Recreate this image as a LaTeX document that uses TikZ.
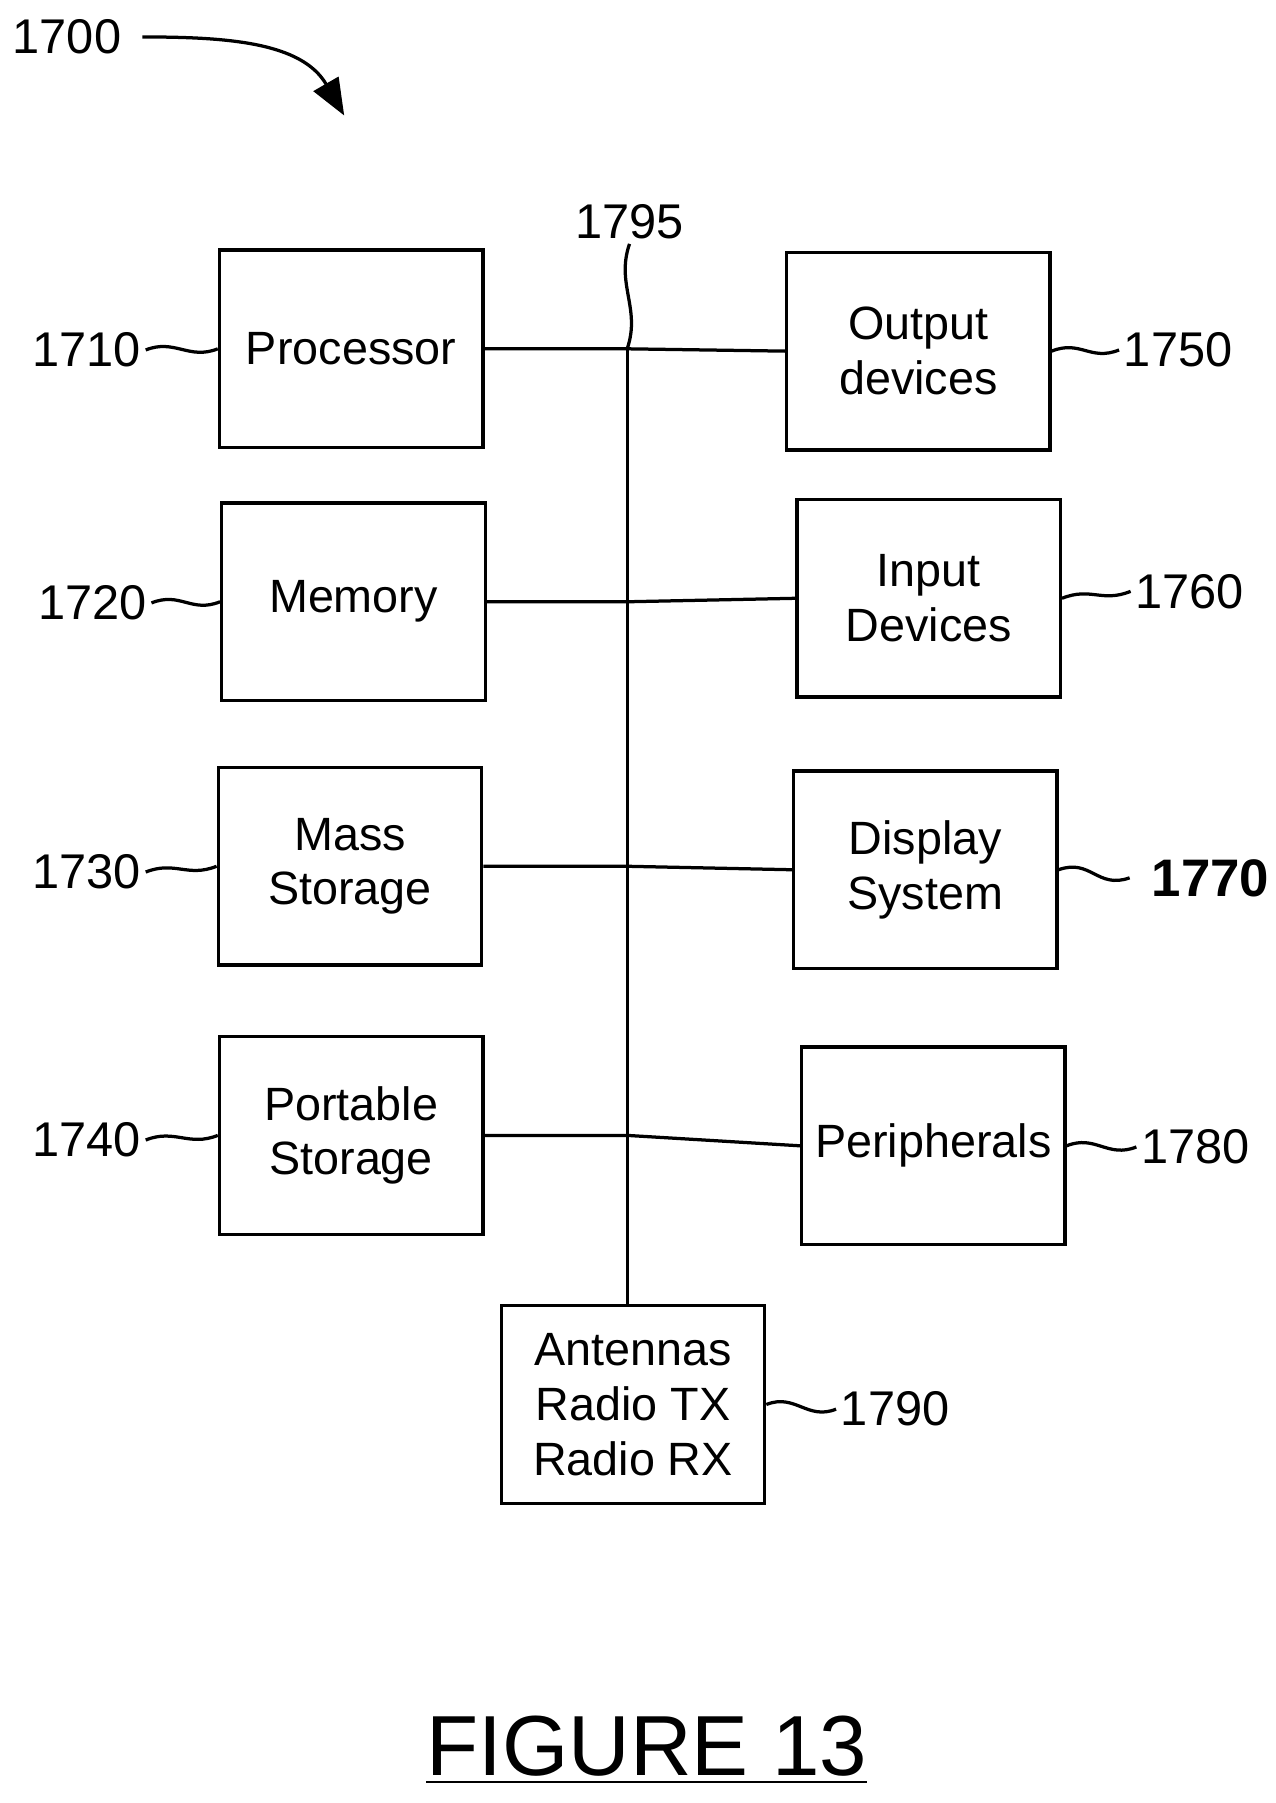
\documentclass[tikz,border=0pt]{standalone}
\usepackage{fontspec}
\setmainfont{Liberation Sans}
\usetikzlibrary{positioning,arrows.meta}

\begin{document}
\begin{tikzpicture}[x=0.01cm,y=-0.01cm,
	blk/.style={draw,thick,minimum width=2.28cm,minimum height=1.71cm,align=center,font=\fontsize{11.5}{13.5}\selectfont},
	num/.style={font=\fontsize{12}{14}\selectfont,inner sep=1pt},
	wig/.style={thick}]
\useasboundingbox (0,0) rectangle (1104,1561);

\foreach \x/\y/\n/\t in {304/302/proc/Processor,306/521/mem/Memory,303/750/mass/Mass\\Storage,304/983/port/Portable\\Storage,
	795/304/out/Output\\devices,804/518/inp/Input\\Devices,801/753/disp/Display\\System,808/992/peri/Peripherals,548/1216/ant/Antennas\\Radio TX\\Radio RX}
	\node[blk] (\n) at (\x,\y) {\t};

% labels
\foreach \x/\y/\n/\b in {75/303/1710/proc,80/522/1720/mem,75/755/1730/mass,75/987/1740/port}
	{\node[num] (l\n) at (\x,\y) {\n};
	\draw[wig] (l\n.east) .. controls +(25,-10) and +(-25,10) .. (\b.west);}
\foreach \x/\y/\n/\b in {1020/303/1750/out,1030/512/1760/inp,1035/993/1780/peri,775/1220/1790/ant}
	{\node[num] (l\n) at (\x,\y) {\n};
	\draw[wig] (\b.east) .. controls +(25,-10) and +(-25,10) .. (l\n.west);}
\node[num,font=\fontsize{13}{15}\selectfont\bfseries] (l1770) at (1048,760) {1770};
\coordinate (w1770) at (978,760);
\draw[wig] (disp.east) .. controls +(28,-10) and +(-28,10) .. (w1770);

% bus
\coordinate (top) at (543,302);
\coordinate (bot) at (543,1131);
\draw[thick] (top) -- (bot);
\foreach \a/\b in {proc/out,mem/inp,mass/disp,port/peri}
	\draw[thick] (\a.east) -- (\a.east -| top) -- (\b.west);
\node[num] (l1795) at (545,192) {1795};
\draw[wig] (l1795.south) .. controls +(-12,35) and +(12,-35) .. (top);

\node[num] (l1700) at (58,32) {1700};
\draw[thick,-{Triangle[length=9pt,width=7pt]}] ([xshift=4pt]l1700.east) to[out=0,in=120] (298,100);

\node[font=\fontsize{21}{24}\selectfont] (fig) at (560,1515) {\underline{FIGURE 13}};
\end{tikzpicture}
\end{document}
